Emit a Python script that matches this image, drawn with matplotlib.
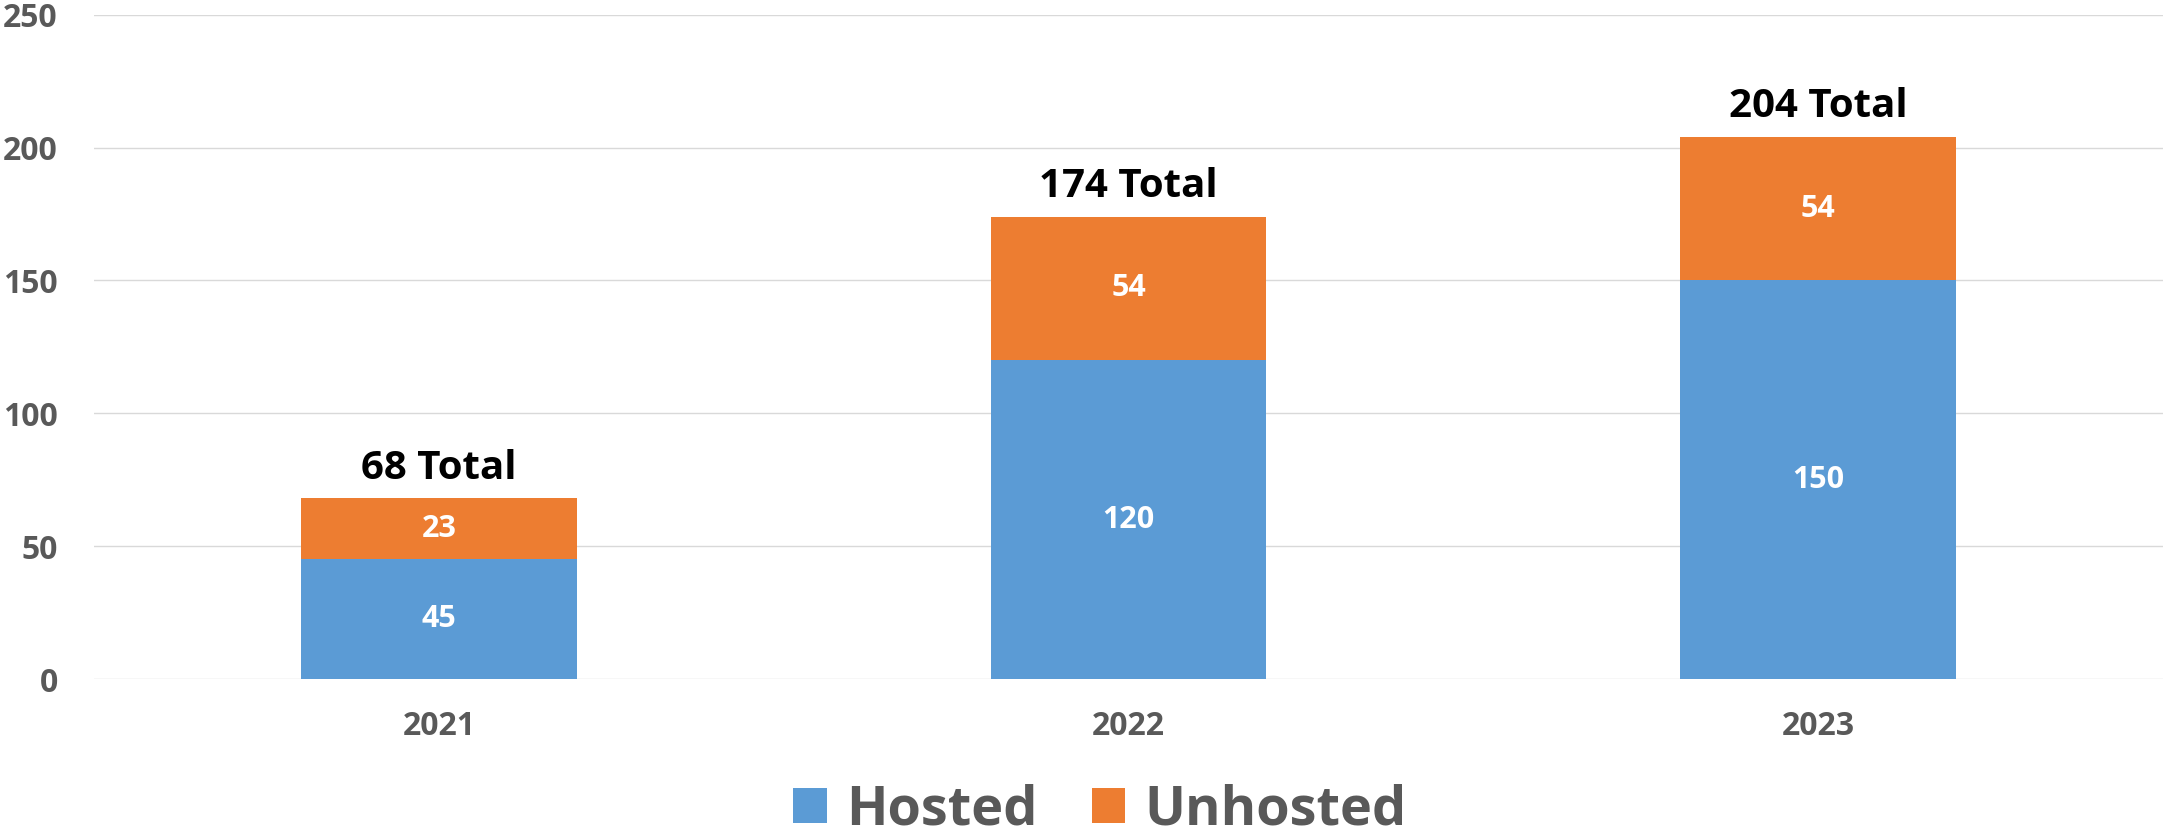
import numpy as np
import matplotlib
matplotlib.use("Agg")
import matplotlib.pyplot as plt

years = ["2021", "2022", "2023"]
hosted = [45, 120, 150]
unhosted = [23, 54, 54]
series_names = ["Hosted", "Unhosted"]
yticks = [0, 50, 100, 150, 200, 250]

BLUE = "#5B9BD5"
ORANGE = "#ED7D31"
GRAY = "#595959"

plt.rcParams['font.family'] = ['Open Sans', 'DejaVu Sans']
plt.rcParams['font.weight'] = 'bold'

fig = plt.figure(figsize=(21.65, 8.36), dpi=100)
ax = fig.add_axes([94 / 2165, 1 - 679 / 836, (2163 - 94) / 2165, (679 - 14.7) / 836])

x = np.arange(len(years))
totals = np.array(hosted) + np.array(unhosted)

b1 = ax.bar(x, hosted, width=0.4, color=BLUE, label=series_names[0], zorder=3)
b2 = ax.bar(x, unhosted, width=0.4, bottom=hosted, color=ORANGE, label=series_names[1], zorder=3)

ax.bar_label(b1, label_type='center', color='white', fontsize=22, fontweight='bold')
ax.bar_label(b2, label_type='center', color='white', fontsize=22, fontweight='bold')

for xi, t in zip(x, totals):
    ax.annotate(f"{t} Total", (xi, t), xytext=(0, 14), textcoords='offset points',
                ha='center', va='baseline', fontsize=29, fontweight='bold', color='black')

ax.set_xlim(-0.5, 2.5)
ax.set_ylim(0, 250)
ax.set_yticks(yticks)
ax.set_xticks(x)
ax.set_xticklabels(years)
ax.tick_params(axis='both', length=0, labelsize=23, labelcolor=GRAY)
ax.tick_params(axis='y', pad=26)
ax.tick_params(axis='x', pad=22)
for lab in ax.get_xticklabels() + ax.get_yticklabels():
    lab.set_fontweight('bold')

ax.grid(axis='y', color='#D9D9D9', linewidth=1.0, zorder=0)
ax.set_axisbelow(True)
for s in ax.spines.values():
    s.set_visible(False)

leg = fig.legend(handles=[b1, b2], labels=series_names, loc='center',
                 bbox_to_anchor=(0.508, 0.03), ncol=2, frameon=False,
                 fontsize=39, handlelength=0.62, handleheight=0.62,
                 handletextpad=0.35, columnspacing=1.0)
for t in leg.get_texts():
    t.set_color(GRAY)
    t.set_fontweight('bold')

fig.savefig("out.png", dpi=100)
